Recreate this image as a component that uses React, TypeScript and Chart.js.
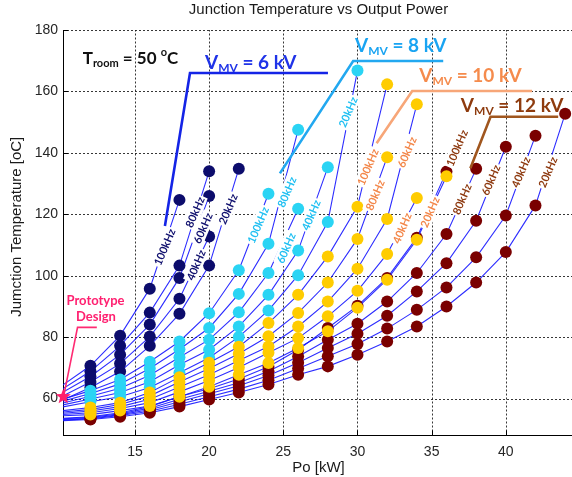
import React, { useEffect, useRef } from "react";
import { Chart, registerables } from "chart.js";

Chart.register(...registerables);

// ---------------- data ----------------
const PO_KW = [10, 12, 14, 16, 18, 20, 22, 24, 26, 28, 30, 32, 34, 36, 38, 40, 42, 44];

// V_MV = 6 kV
const T_6KV_100KHZ = [64.0, 70.7, 80.5, 95.8, 124.7];
const T_6KV_80KHZ = [62.8, 68.9, 77.2, 88.0, 103.3, 134.0];
const T_6KV_60KHZ = [61.7, 67.2, 74.3, 84.1, 99.3, 126.0];
const T_6KV_40KHZ = [60.5, 65.4, 71.4, 80.2, 92.5, 112.8];
const T_6KV_20KHZ = [59.3, 63.6, 68.8, 77.2, 87.6, 103.3, 134.8];

// V_MV = 8 kV
const T_8KV_100KHZ = [59.6, 62.6, 66.2, 72.0, 78.6, 87.8, 101.8, 126.7];
const T_8KV_80KHZ = [59.0, 61.7, 64.8, 69.8, 76.1, 83.0, 94.1, 110.4, 147.5];
const T_8KV_60KHZ = [58.4, 60.8, 63.4, 67.6, 73.5, 79.2, 88.1, 100.9, 121.8];
const T_8KV_40KHZ = [57.8, 59.9, 62.0, 65.5, 71.0, 75.9, 83.5, 93.8, 108.2, 135.3];
const T_8KV_20KHZ = [57.2, 59.0, 60.6, 63.6, 68.4, 73.3, 80.1, 88.7, 100.2, 117.5, 166.8];

// V_MV = 10 kV
const T_10KV_100KHZ = [56.0, 57.1, 58.7, 62.0, 67.0, 71.7, 76.9, 84.6, 93.8, 106.3, 122.5, 162.3];
const T_10KV_80KHZ = [55.6, 56.5, 58.1, 60.9, 65.4, 69.8, 74.6, 80.3, 87.9, 97.8, 112.0, 138.6];
const T_10KV_60KHZ = [55.2, 56.0, 57.4, 59.8, 63.8, 67.8, 72.4, 77.0, 83.5, 91.6, 102.3, 118.5, 155.8];
const T_10KV_40KHZ = [54.8, 55.4, 56.8, 58.7, 62.2, 65.9, 70.1, 74.9, 79.7, 86.8, 95.1, 107.1, 125.3];
const T_10KV_20KHZ = [54.4, 54.8, 56.1, 57.6, 60.6, 63.9, 67.8, 71.6, 76.5, 81.9, 89.6, 98.7, 111.7, 132.4];

// V_MV = 12 kV
const T_12KV_100KHZ = [53.6, 54.1, 55.4, 57.4, 60.7, 63.2, 66.4, 70.4, 75.9, 83.0, 90.2, 99.3, 112.4, 133.9];
const T_12KV_80KHZ = [53.4, 53.9, 55.1, 56.9, 59.8, 62.4, 65.2, 68.9, 73.7, 79.2, 84.4, 91.6, 100.9, 113.6, 134.8];
const T_12KV_60KHZ = [53.2, 53.6, 54.8, 56.4, 59.0, 61.6, 64.2, 67.5, 71.7, 76.5, 81.1, 87.0, 94.9, 104.1, 117.9, 142.0];
const T_12KV_40KHZ = [53.0, 53.4, 54.5, 55.9, 58.2, 60.6, 63.1, 66.0, 69.8, 73.8, 77.8, 82.8, 88.9, 96.2, 106.0, 119.6, 145.6];
const T_12KV_20KHZ = [52.8, 53.2, 54.1, 55.4, 57.4, 59.7, 62.0, 64.6, 67.8, 70.5, 74.3, 78.6, 83.5, 90.0, 97.8, 107.7, 122.9, 152.7];

const FREQS = ["100kHz", "80kHz", "60kHz", "40kHz", "20kHz"];
const VOLTAGES = ["6", "8", "10", "12"];

// prototype design point
const PROTOTYPE_PO = [10.17];
const PROTOTYPE_T = [60.6];

// axes
const X_MIN = 10.15;
const X_MAX = 45;
const X_STEP = 5;
const Y_MIN = 48;
const Y_MAX = 180;
const Y_STEP = 20;

// ---------------- styles / annotation layout ----------------
const AX_FONT = '"Liberation Sans", Arial, Helvetica, sans-serif';
const ANN_FONT = 'Lato, "Open Sans", "Noto Sans", sans-serif';
const LINE_COLOR = "rgba(22,22,255,0.9)";

const GROUPS = [
  {
    series: [T_6KV_100KHZ, T_6KV_80KHZ, T_6KV_60KHZ, T_6KV_40KHZ, T_6KV_20KHZ],
    dot: "#0c0c6c",
    text: "#1f33e8",
    leaderColor: "#1424e6",
    labelColor: "#10106e",
    order: 3,
    leader: [[17.02, 116.2], [18.71, 166.0], [28.01, 166.0]],
    title: [19.72, 167.45],
    labels: [[16.99, 109.35], [19.04, 120.74], [19.58, 115.53], [19.11, 103.49], [21.27, 121.72]],
  },
  {
    series: [T_8KV_100KHZ, T_8KV_80KHZ, T_8KV_60KHZ, T_8KV_40KHZ, T_8KV_20KHZ],
    dot: "#2ad4f4",
    text: "#19a4f2",
    leaderColor: "#22a8f0",
    labelColor: "#22c0f2",
    order: 2,
    leader: [[24.77, 133.34], [29.71, 169.9], [35.78, 169.9]],
    title: [29.83, 172.83],
    labels: [[23.29, 116.51], [25.24, 127.26], [25.18, 109.03], [26.87, 119.77], [29.36, 153.3]],
  },
  {
    series: [T_10KV_100KHZ, T_10KV_80KHZ, T_10KV_60KHZ, T_10KV_40KHZ, T_10KV_20KHZ],
    dot: "#ffcc00",
    text: "#f58b4c",
    leaderColor: "#f7a678",
    labelColor: "#f3874a",
    order: 0,
    leader: [[31.29, 143.11], [33.69, 160.14], [41.77, 160.14]],
    title: [34.16, 163.06],
    labels: [[30.7, 135.39], [31.18, 126.28], [33.33, 140.27], [33.0, 115.53], [34.88, 120.74]],
  },
  {
    series: [T_12KV_100KHZ, T_12KV_80KHZ, T_12KV_60KHZ, T_12KV_40KHZ, T_12KV_20KHZ],
    dot: "#7a0000",
    text: "#8e3b0e",
    leaderColor: "#a0561e",
    labelColor: "#8e3a10",
    order: 1,
    leader: [[37.61, 134.97], [38.97, 151.77], [43.53, 151.77]],
    title: [36.97, 153.3],
    labels: [[36.7, 141.57], [37.04, 124.97], [38.99, 131.16], [41.01, 133.76], [42.83, 133.76]],
  },
];

const PROTO_LEADER = [[10.21, 61.17], [11.13, 83.21], [12.43, 83.21]];
const PROTO_TEXT = [[12.34, 91.77, "Prototype"], [12.37, 86.56, "Design"]] as const;
const TROOM_POS = [11.48, 169.08];

type Part = { t: string; s: number; dy?: number };

function drawRich(ctx: CanvasRenderingContext2D, parts: Part[], x: number, y: number, color: string) {
  ctx.save();
  ctx.fillStyle = color;
  ctx.textAlign = "left";
  ctx.textBaseline = "alphabetic";
  let cx = x;
  for (const p of parts) {
    ctx.font = `bold ${p.s}px ${ANN_FONT}`;
    ctx.fillText(p.t, cx, y + (p.dy || 0));
    cx += ctx.measureText(p.t).width;
  }
  ctx.restore();
}

function drawStar(ctx: CanvasRenderingContext2D, cx: number, cy: number, ro: number, ri: number) {
  ctx.beginPath();
  for (let i = 0; i < 10; i++) {
    const r = i % 2 === 0 ? ro : ri;
    const a = -Math.PI / 2 + (i * Math.PI) / 5;
    const X = cx + r * Math.cos(a);
    const Y = cy + r * Math.sin(a);
    if (i === 0) ctx.moveTo(X, Y);
    else ctx.lineTo(X, Y);
  }
  ctx.closePath();
  ctx.fill();
}

const gridPlugin = {
  id: "dottedGrid",
  beforeDatasetsDraw(chart: any) {
    const ctx: CanvasRenderingContext2D = chart.ctx;
    const ca = chart.chartArea;
    const xs = chart.scales.x;
    const ys = chart.scales.y;
    ctx.save();
    ctx.strokeStyle = "rgba(20,20,20,0.85)";
    ctx.lineWidth = 1;
    ctx.setLineDash([2, 2]);
    xs.ticks.forEach((t: any) => {
      const X = Math.round(xs.getPixelForValue(t.value)) + 0.5;
      ctx.beginPath();
      ctx.moveTo(X, ca.bottom);
      ctx.lineTo(X, ca.top);
      ctx.stroke();
    });
    ys.ticks.forEach((t: any) => {
      const Y = Math.round(ys.getPixelForValue(t.value)) + 0.5;
      ctx.beginPath();
      ctx.moveTo(ca.left, Y);
      ctx.lineTo(ca.right, Y);
      ctx.stroke();
    });
    // MATLAB style inner tick marks
    ctx.setLineDash([]);
    ctx.strokeStyle = "#000000";
    xs.ticks.forEach((t: any) => {
      const X = Math.round(xs.getPixelForValue(t.value)) + 0.5;
      ctx.beginPath();
      ctx.moveTo(X, ca.bottom);
      ctx.lineTo(X, ca.bottom - 5);
      ctx.stroke();
    });
    ys.ticks.forEach((t: any) => {
      const Y = Math.round(ys.getPixelForValue(t.value)) + 0.5;
      ctx.beginPath();
      ctx.moveTo(ca.left, Y);
      ctx.lineTo(ca.left + 5, Y);
      ctx.stroke();
    });
    ctx.restore();
  },
};

const overlayPlugin = {
  id: "overlay",
  afterDatasetsDraw(chart: any) {
    const ctx: CanvasRenderingContext2D = chart.ctx;
    const xs = chart.scales.x;
    const ys = chart.scales.y;
    const P = (a: number, b: number) => [xs.getPixelForValue(a), ys.getPixelForValue(b)];
    ctx.save();

    // frequency labels (white boxed, rotated)
    GROUPS.forEach((g) => {
      g.labels.forEach(([a, b], i) => {
        const [X, Y] = P(a, b);
        ctx.save();
        ctx.translate(X, Y);
        ctx.rotate((-67 * Math.PI) / 180);
        ctx.font = `bold 11px ${ANN_FONT}`;
        const w = ctx.measureText(FREQS[i]).width;
        ctx.fillStyle = "#ffffff";
        ctx.fillRect(-w / 2 - 1.5, -6.5, w + 3, 13);
        ctx.fillStyle = g.labelColor;
        ctx.textAlign = "center";
        ctx.textBaseline = "middle";
        ctx.fillText(FREQS[i], 0, 0.5);
        ctx.restore();
      });
    });

    // leader lines
    GROUPS.forEach((g) => {
      ctx.beginPath();
      g.leader.forEach(([a, b], i) => {
        const [X, Y] = P(a, b);
        if (i === 0) ctx.moveTo(X, Y);
        else ctx.lineTo(X, Y);
      });
      ctx.strokeStyle = g.leaderColor;
      ctx.lineWidth = 2.6;
      ctx.lineJoin = "miter";
      ctx.stroke();
    });

    // V_MV titles
    GROUPS.forEach((g, i) => {
      const [X, Y] = P(g.title[0], g.title[1]);
      drawRich(
        ctx,
        [
          { t: "V", s: 19 },
          { t: "MV", s: 12, dy: 3 },
          { t: ` = ${VOLTAGES[i]} kV`, s: 19 },
        ],
        X,
        Y,
        g.text
      );
    });

    // T_room
    {
      const [X, Y] = P(TROOM_POS[0], TROOM_POS[1]);
      drawRich(
        ctx,
        [
          { t: "T", s: 17 },
          { t: "room", s: 11, dy: 3 },
          { t: " = 50 ", s: 17 },
          { t: "o", s: 11, dy: -8 },
          { t: "C", s: 17 },
        ],
        X,
        Y,
        "#111111"
      );
    }

    // prototype leader, text and star
    ctx.beginPath();
    PROTO_LEADER.forEach(([a, b], i) => {
      const [X, Y] = P(a, b);
      if (i === 0) ctx.moveTo(X, Y);
      else ctx.lineTo(X, Y);
    });
    ctx.strokeStyle = "#ff2a72";
    ctx.lineWidth = 1.6;
    ctx.stroke();
    ctx.font = `bold 13px ${ANN_FONT}`;
    ctx.fillStyle = "#ff2070";
    ctx.textAlign = "center";
    ctx.textBaseline = "middle";
    PROTO_TEXT.forEach(([a, b, t]) => {
      const [X, Y] = P(a, b);
      ctx.fillText(t, X, Y);
    });
    ctx.fillStyle = "#ff1f6d";
    PROTOTYPE_PO.forEach((po, i) => {
      const [X, Y] = P(po, PROTOTYPE_T[i]);
      drawStar(ctx, X, Y, 8, 3.4);
    });

    ctx.restore();
  },
  afterDraw(chart: any) {
    const ctx: CanvasRenderingContext2D = chart.ctx;
    const ca = chart.chartArea;
    ctx.save();
    ctx.fillStyle = "#1a1a1a";
    ctx.textAlign = "center";
    ctx.textBaseline = "middle";
    ctx.font = `15px ${AX_FONT}`;
    ctx.fillText("Junction Temperature vs Output Power", (ca.left + ca.right) / 2 - 3, ca.top - 20);
    ctx.fillText("Po [kW]", (ca.left + ca.right) / 2 - 3, ca.bottom + 32.5);
    ctx.translate(ca.left - 46, (ca.top + ca.bottom) / 2 - 6);
    ctx.rotate(-Math.PI / 2);
    ctx.fillText("Jumction Temperature [oC]", 0, 0);
    ctx.restore();
  },
};

export default function App() {
  const ref = useRef<HTMLCanvasElement | null>(null);

  useEffect(() => {
    if (!ref.current) return;
    const datasets: any[] = [];
    GROUPS.forEach((g, gi) => {
      g.series.forEach((temps, i) => {
        datasets.push({
          label: `${VOLTAGES[gi]} kV ${FREQS[i]}`,
          data: temps.map((t, k) => ({ x: PO_KW[k], y: t })),
          showLine: true,
          borderColor: LINE_COLOR,
          borderWidth: 1.1,
          backgroundColor: g.dot,
          pointBackgroundColor: g.dot,
          pointBorderColor: g.dot,
          pointBorderWidth: 0,
          pointRadius: (c: any) => (c.raw && c.raw.x < X_MIN ? 0 : 6),
          pointHoverRadius: (c: any) => (c.raw && c.raw.x < X_MIN ? 0 : 6),
          order: g.order,
          tension: 0,
        });
      });
    });

    const tickFont = { family: AX_FONT, size: 14 };
    const chart = new Chart(ref.current, {
      type: "scatter",
      data: { datasets },
      options: {
        animation: false,
        responsive: false,
        events: [],
        layout: { padding: { left: 0, top: 30, right: 20, bottom: 0 } },
        plugins: {
          legend: { display: false },
          tooltip: { enabled: false },
          title: { display: false },
        },
        scales: {
          x: {
            type: "linear",
            min: X_MIN,
            max: X_MAX,
            afterFit: (s: any) => {
              s.height = 41.5;
            },
            ticks: {
              stepSize: X_STEP,
              includeBounds: false,
              padding: 8,
              color: "#262626",
              font: tickFont,
              maxRotation: 0,
            },
            grid: { display: false, drawTicks: false },
            border: { display: true, color: "#000000", width: 1 },
          },
          y: {
            type: "linear",
            min: Y_MIN,
            max: Y_MAX,
            afterFit: (s: any) => {
              s.width = 63;
            },
            ticks: {
              stepSize: Y_STEP,
              includeBounds: false,
              padding: 5,
              color: "#262626",
              font: tickFont,
            },
            grid: { display: false, drawTicks: false },
            border: { display: true, color: "#000000", width: 1 },
          },
        },
      },
      plugins: [gridPlugin, overlayPlugin],
    } as any);
    return () => chart.destroy();
  }, []);

  return (
    <div
      style={{
        position: "fixed",
        left: 0,
        top: 0,
        width: 572,
        height: 477,
        overflow: "hidden",
        background: "#ffffff",
      }}
    >
      <canvas ref={ref} width={600} height={477} style={{ width: 600, height: 477, display: "block" }} />
    </div>
  );
}
